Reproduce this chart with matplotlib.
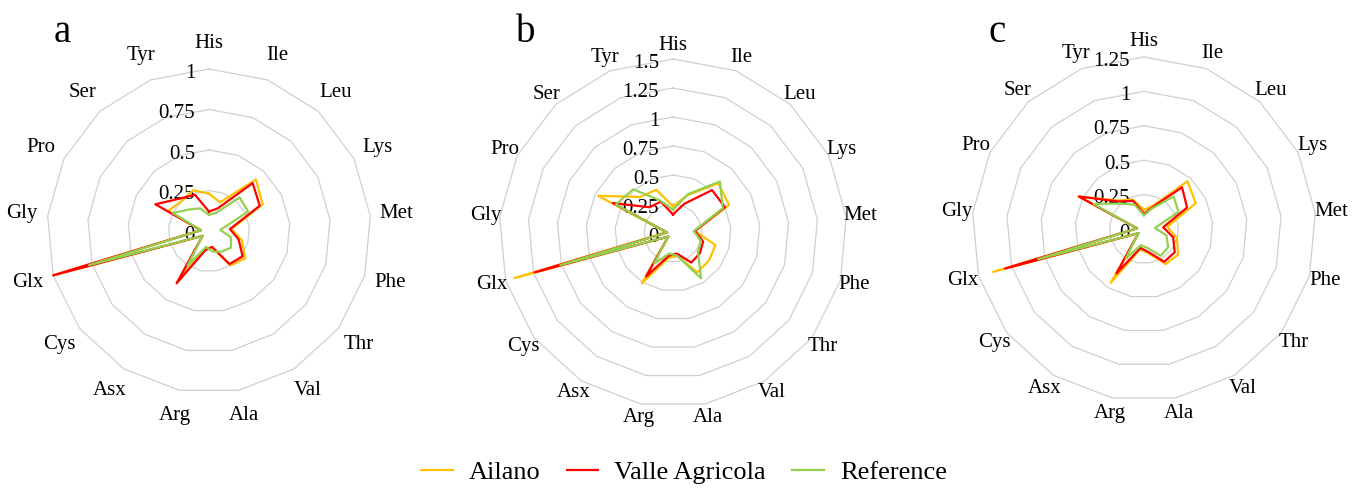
import numpy as np
import matplotlib
matplotlib.use("Agg")
import matplotlib.pyplot as plt
from matplotlib.lines import Line2D

plt.rcParams['font.family'] = ['Liberation Serif', 'DejaVu Serif']

amino = ["His", "Ile", "Leu", "Lys", "Met", "Phe", "Thr", "Val", "Ala",
         "Arg", "Asx", "Cys", "Glx", "Gly", "Pro", "Ser", "Tyr"]

ailano_a = [0.23, 0.19, 0.43, 0.37, 0.14, 0.21, 0.28, 0.25, 0.10, 0.12, 0.33, 0.05, 1.00, 0.05, 0.28, 0.25, 0.27]
valle_a = [0.12, 0.15, 0.40, 0.35, 0.13, 0.19, 0.26, 0.24, 0.10, 0.12, 0.38, 0.05, 1.00, 0.05, 0.37, 0.27, 0.24]
ref_a = [0.10, 0.12, 0.28, 0.27, 0.07, 0.14, 0.17, 0.15, 0.13, 0.10, 0.25, 0.05, 0.77, 0.05, 0.25, 0.18, 0.15]

ailano_b = [0.23, 0.35, 0.58, 0.54, 0.19, 0.38, 0.39, 0.40, 0.20, 0.22, 0.51, 0.05, 1.42, 0.06, 0.72, 0.42, 0.40]
valle_b = [0.16, 0.27, 0.50, 0.50, 0.19, 0.27, 0.29, 0.30, 0.18, 0.20, 0.44, 0.05, 1.24, 0.05, 0.58, 0.30, 0.29]
ref_b = [0.20, 0.36, 0.60, 0.48, 0.18, 0.25, 0.27, 0.46, 0.20, 0.18, 0.31, 0.05, 1.01, 0.05, 0.55, 0.51, 0.30]

ailano_c = [0.14, 0.18, 0.47, 0.42, 0.17, 0.25, 0.31, 0.30, 0.18, 0.15, 0.46, 0.05, 1.14, 0.05, 0.53, 0.28, 0.23]
valle_c = [0.11, 0.17, 0.41, 0.35, 0.14, 0.22, 0.28, 0.28, 0.17, 0.14, 0.38, 0.05, 1.05, 0.05, 0.53, 0.27, 0.22]
ref_c = [0.10, 0.16, 0.32, 0.28, 0.08, 0.17, 0.22, 0.23, 0.14, 0.12, 0.25, 0.05, 0.80, 0.05, 0.41, 0.25, 0.19]

series_names = ["Ailano", "Valle Agricola", "Reference"]
series_colors = ["#FFC000", "#FF0000", "#92D050"]

# panel letter, max of radial axis, centre x, centre y, radius (pixels)
panels = [
    ("a", 1.0, [ailano_a, valle_a, ref_a], 209, 231, 162),
    ("b", 1.5, [ailano_b, valle_b, ref_b], 673, 233, 174),
    ("c", 1.25, [ailano_c, valle_c, ref_c], 1144, 229, 172),
]

W, H = 1368, 488
fig = plt.figure(figsize=(W / 100, H / 100), dpi=100)


def radar(letter, rmax, data, cx, cy, rad):
    ax = fig.add_axes([(cx - rad) / W, (H - cy - rad) / H, 2 * rad / W, 2 * rad / H],
                      projection="polar")
    ax.set_theta_zero_location("N")
    ax.set_theta_direction(-1)
    ax.set_ylim(0, rmax)
    ax.set_xticks([])
    ax.set_yticks([])
    ax.grid(False)
    ax.spines["polar"].set_visible(False)
    ax.patch.set_visible(False)

    n = len(amino)
    theta = np.linspace(0, 2 * np.pi, n, endpoint=False)
    closed = np.append(theta, theta[0])

    levels = np.arange(0.25, rmax + 0.001, 0.25)
    for lv in levels:
        ax.plot(closed, [lv] * (n + 1), color="#D0D0D0", lw=0.9, clip_on=False, zorder=1)
    for lv in np.append(0, levels):
        txt = ("%g" % lv)
        ax.annotate(txt, xy=(0, lv), xytext=(-10, -3), textcoords="offset points",
                    ha="right", va="center", fontsize=15, zorder=2)

    for vals, col in zip(data, series_colors):
        v = list(vals) + [vals[0]]
        ax.plot(closed, v, color=col, lw=1.6, clip_on=False, zorder=3)

    rl = rmax * 188.0 / rad
    for t, name in zip(theta, amino):
        ax.text(t, rl, name, ha="center", va="center", fontsize=15, clip_on=False)

    fig.text((cx - 147) / W, 1 - 32 / H, letter, fontsize=28, ha="center", va="center")


for p in panels:
    radar(*p)

handles = [Line2D([0], [0], color=c, lw=1.6) for c in series_colors]
fig.legend(handles, series_names, loc="center", bbox_to_anchor=(0.5, 1 - 472 / H),
           ncol=3, frameon=False, fontsize=19, handlelength=1.2, handletextpad=0.6,
           columnspacing=1.0)

fig.savefig("out.png", dpi=100)
